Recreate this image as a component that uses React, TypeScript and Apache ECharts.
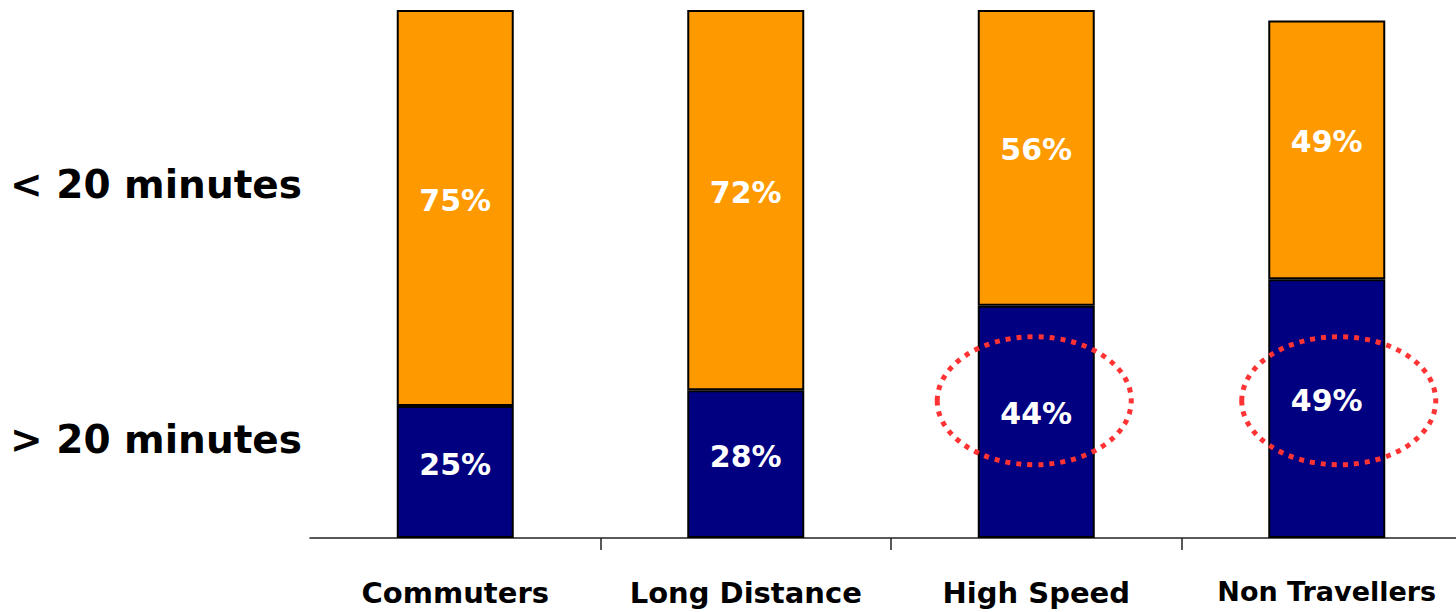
import React, { useEffect, useRef } from "react";
import * as echarts from "echarts";

const categories = ["Commuters", "Long Distance", "High Speed", "Non Travellers"];
const over20 = [25, 28, 44, 49];
const under20 = [75, 72, 56, 49];
const legendLabels = ["< 20 minutes", "> 20 minutes"];
const highlighted = ["High Speed", "Non Travellers"];

export default function App() {
  const ref = useRef<HTMLDivElement>(null);
  useEffect(() => {
    const chart = echarts.init(ref.current!, null, { renderer: "svg" });
    const font = "'DejaVu Sans', sans-serif";
    const labelStyle = {
      show: true,
      position: "inside",
      offset: [0, -8],
      color: "#ffffff",
      fontFamily: font,
      fontWeight: "bold",
      fontSize: 30,
      formatter: "{c}%",
    };
    chart.setOption({
      animation: false,
      grid: { left: 310, top: 10, width: 1162, bottom: 74 },
      xAxis: {
        type: "category",
        data: categories.map((c) =>
          c === "Non Travellers" ? { value: c, textStyle: { fontSize: 27 } } : c
        ),
        axisLine: { show: true, lineStyle: { color: "#222", width: 1.5 } },
        axisTick: {
          show: true,
          length: 12,
          interval: (index: number) => index !== 0,
          lineStyle: { color: "#222", width: 1.5 },
        },
        axisLabel: {
          interval: 0,
          hideOverlap: false,
          margin: 40,
          color: "#000",
          fontFamily: font,
          fontWeight: "bold",
          fontSize: 29,
        },
      },
      yAxis: { type: "value", min: 0, max: 100, show: false },
      series: [
        {
          name: legendLabels[1],
          type: "bar",
          stack: "t",
          barWidth: 117,
          data: over20,
          itemStyle: { color: "#000080", borderColor: "#000", borderWidth: 2 },
          label: labelStyle,
        },
        {
          name: legendLabels[0],
          type: "bar",
          stack: "t",
          barWidth: 117,
          data: under20,
          itemStyle: { color: "#FF9900", borderColor: "#000", borderWidth: 2 },
          label: labelStyle,
        },
      ],
    });
    const graphics: any[] = [
      {
        type: "text",
        left: 10,
        top: 165,
        style: { text: legendLabels[0], fill: "#000", font: `bold 39px ${font}` },
      },
      {
        type: "text",
        left: 10,
        top: 420,
        style: { text: legendLabels[1], fill: "#000", font: `bold 39px ${font}` },
      },
    ];
    const shifts = [-2, 12];
    highlighted.forEach((c, i) => {
      const p = chart.convertToPixel({ gridIndex: 0 }, [c, 26]) as number[];
      graphics.push({
        type: "ellipse",
        z: 100,
        shape: { cx: p[0] + shifts[i], cy: p[1], rx: 97, ry: 64 },
        style: { fill: "none", stroke: "#FF3333", lineWidth: 5, lineDash: [5, 6] },
        silent: true,
      });
    });
    chart.setOption({ graphic: graphics });
    return () => chart.dispose();
  }, []);
  return (
    <div
      style={{ position: "fixed", left: 0, top: 0, width: 1456, height: 612, overflow: "hidden", background: "#fff" }}
    >
      <div ref={ref} style={{ width: 1480, height: 612 }} />
    </div>
  );
}
